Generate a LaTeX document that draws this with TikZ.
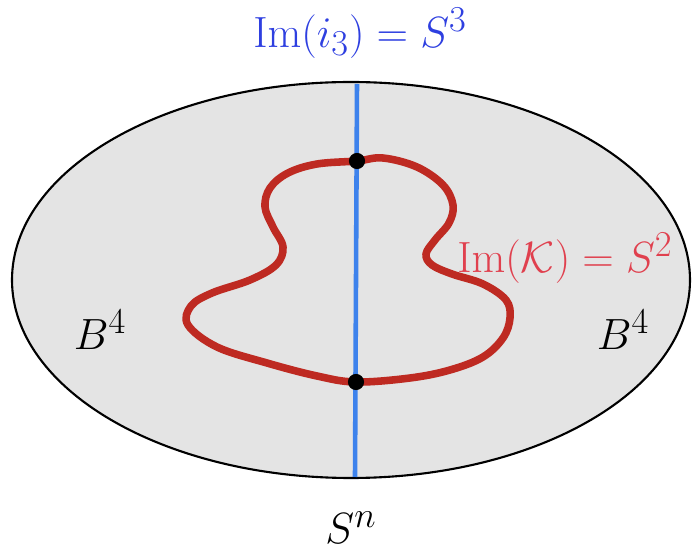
\documentclass[tikz,border=0pt]{standalone}
\usepackage{tikz}
\usetikzlibrary{calc,positioning}
\definecolor{BallGray}{HTML}{E4E4E4}
\definecolor{AxisBlue}{HTML}{3D82EC}
\definecolor{AxisText}{HTML}{2E3FE0}
\definecolor{KnotRed}{HTML}{BE2A22}
\definecolor{KnotText}{HTML}{E0404E}

\begin{document}
\begin{tikzpicture}[
    x=0.02cm, y=-0.02cm,
    every node/.style={font=\fontsize{24.88}{30}\selectfont, inner sep=0pt},
    knot/.style={draw=KnotRed, line width=4.3pt, line join=round},
    axis/.style={draw=AxisBlue, line width=2.6pt},
    meet/.style={fill=black}
  ]
  \useasboundingbox (0,0) rectangle (694,550);

  % the sphere S^n, split into two balls
  \filldraw[fill=BallGray, draw=black, line width=1.2pt]
    (351,280) ellipse [x radius=339, y radius=198];

  \coordinate (poleN) at (357,84);
  \coordinate (poleS) at (355,477);
  \coordinate (knotTop) at (357,161);
  \coordinate (knotBot) at (356,382);

  % the knotted S^2
  \draw[knot] plot[smooth cycle, tension=0.6] coordinates {
    (357,161) (383,158) (417,167) (443,185) (453,205) (449,223) (435,240)
    (426,254) (432,265) (452,274) (483,284) (506,300) (510,318) (503,338)
    (483,357) (450,370) (410,378) (356,382) (317,376) (267,363) (217,347)
    (188,325) (191,306) (212,293) (250,280) (276,265) (283,247) (273,227)
    (265,207) (270,188) (288,173) (317,164)
  };

  % the equator S^3
  \draw[axis] (poleN) -- (poleS);
  \fill[meet] (knotTop) circle (4.6pt);
  \fill[meet] (knotBot) circle (4.6pt);

  \node[text=AxisText] (imgAxis) at (360,33) {$\mathrm{Im}(i_3) = S^3$};
  \node[text=KnotText, anchor=west] (imgKnot) at (457,258) {$\mathrm{Im}(\mathcal{K}) = S^2$};
  \node (ballL) at (100,330) {$B^4$};
  \node (ballR) at (623,330) {$B^4$};
  \node (sphere) at (351,528) {$S^n$};
\end{tikzpicture}
\end{document}
